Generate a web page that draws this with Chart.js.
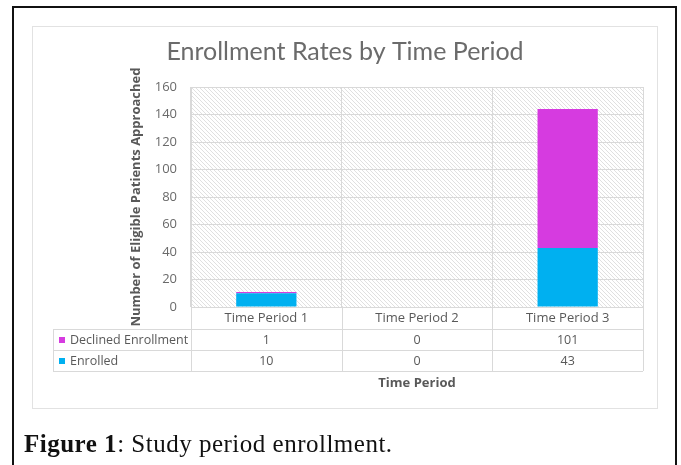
<!DOCTYPE html>
<html>
<head>
<meta charset="utf-8">
<title>Enrollment Rates by Time Period</title>
<script src="https://cdn.jsdelivr.net/npm/chart.js@4.4.1/dist/chart.umd.min.js"></script>
<style>
  html, body { margin: 0; padding: 0; background: #fff; }
  body { width: 681px; height: 465px; position: relative; overflow: hidden; }
  #frame { position: absolute; left: 12px; top: 6px; width: 661px; height: 480px; border: 2px solid #111; }
  #box { position: absolute; left: 32px; top: 26px; width: 624px; height: 381px; border: 1px solid #e2e2e2; }
  #chart { position: absolute; left: 0; top: 0; }
  #caption { position: absolute; left: 24px; top: 431px; font: 25px/25px 'Liberation Serif', serif; letter-spacing: 0.5px; color: #111; white-space: nowrap; }
</style>
</head>
<body>
<div id="frame"></div>
<div id="box"></div>
<canvas id="chart" width="681" height="465"></canvas>
<div id="caption"><b>Figure 1</b>: Study period enrollment.</div>
<script>
(function () {
	'use strict';

	// ─── Data ───
	var categories = ['Time Period 1', 'Time Period 2', 'Time Period 3'];
	var enrolled = [10, 0, 43];
	var declined = [1, 0, 101];
	var yMin = 0;
	var yMax = 160;
	var yStep = 20;

	var colors = {
		enrolled: '#00b0f0',
		declined: '#d63be0',
		grid: '#d9d9d9',
		text: '#6a6a6a',
		title: '#6b6b6b',
		label: '#595959'
	};

	// diagonal hatch used behind the plot area
	function makeHatch() {
		var c = document.createElement('canvas');
		c.width = 4;
		c.height = 4;
		var g = c.getContext('2d');
		g.fillStyle = '#ffffff';
		g.fillRect(0, 0, 4, 4);
		g.fillStyle = '#e0e0e0';
		for (var i = 0; i < 4; i++) g.fillRect(i, i, 1, 1);
		return g.createPattern(c, 'repeat');
	}

	var hatchBackground = {
		id: 'hatchBackground',
		beforeDraw: function (chart) {
			var a = chart.chartArea;
			var ctx = chart.ctx;
			ctx.save();
			ctx.fillStyle = makeHatch();
			ctx.fillRect(a.left, a.top, a.right - a.left, a.bottom - a.top);
			ctx.restore();
		}
	};

	// Excel-style data table under the x axis
	var dataTable = {
		id: 'dataTable',
		afterDraw: function (chart) {
			var ctx = chart.ctx;
			var a = chart.chartArea;
			var x = chart.scales.x;
			var rowH = 21;
			var headH = 22;
			var tableLeft = 53;
			var top = a.bottom + headH;
			var ds = chart.data.datasets.slice().reverse();
			var bottom = top + rowH * ds.length;
			var colW = (a.right - a.left) / categories.length;

			ctx.save();
			ctx.strokeStyle = colors.grid;
			ctx.lineWidth = 1;
			ctx.beginPath();
			for (var r = 0; r <= ds.length; r++) {
				var yy = Math.round(top + r * rowH) + 0.5;
				ctx.moveTo(tableLeft, yy);
				ctx.lineTo(a.right, yy);
			}
			ctx.moveTo(tableLeft + 0.5, top);
			ctx.lineTo(tableLeft + 0.5, bottom);
			for (var c = 0; c <= categories.length; c++) {
				var xx = Math.round(a.left + c * colW) + 0.5;
				ctx.moveTo(xx, a.bottom);
				ctx.lineTo(xx, bottom);
			}
			ctx.stroke();

			ctx.font = '12.5px "Open Sans", sans-serif';
			ctx.textBaseline = 'middle';
			ds.forEach(function (set, i) {
				var cy = top + i * rowH + rowH / 2 + 0.5;
				ctx.fillStyle = set.backgroundColor;
				ctx.fillRect(tableLeft + 6, Math.round(cy - 3), 6, 6);
				ctx.fillStyle = colors.label;
				ctx.textAlign = 'left';
				ctx.fillText(set.label, tableLeft + 17, cy);
				ctx.textAlign = 'center';
				set.data.forEach(function (v, j) {
					ctx.fillText(String(v), x.getPixelForValue(j), cy);
				});
			});
			ctx.restore();
		}
	};

	var ctx = document.getElementById('chart').getContext('2d');

	new Chart(ctx, {
		type: 'bar',
		data: {
			labels: categories,
			datasets: [{
				label: 'Enrolled',
				data: enrolled,
				backgroundColor: colors.enrolled,
				barPercentage: 0.4,
				categoryPercentage: 1
			}, {
				label: 'Declined Enrollment',
				data: declined,
				backgroundColor: colors.declined,
				barPercentage: 0.4,
				categoryPercentage: 1
			}]
		},
		options: {
			responsive: false,
			animation: false,
			layout: {
				padding: { top: 37, left: 47, right: 38, bottom: 74 }
			},
			plugins: {
				legend: { display: false },
				tooltip: { enabled: false },
				title: {
					display: true,
					text: 'Enrollment Rates by Time Period',
					color: colors.title,
					font: { family: 'Lato', size: 25, weight: 'normal' },
					padding: { top: 0, bottom: 20 }
				}
			},
			scales: {
				x: {
					stacked: true,
					afterFit: function (s) { s.height = 84; },
					grid: { color: colors.grid, drawTicks: false, offset: true },
					border: { color: colors.grid },
					ticks: {
						color: colors.label,
						padding: 3,
						font: { family: 'Open Sans', size: 13 }
					},
					title: {
						display: true,
						text: 'Time Period',
						color: colors.label,
						font: { family: 'Open Sans', size: 13, weight: 'bold' },
						padding: { top: 0, bottom: 0 }
					}
				},
				y: {
					stacked: true,
					min: yMin,
					max: yMax,
					afterFit: function (s) { s.width = 144; },
					grid: { color: colors.grid, drawTicks: false },
					border: { color: colors.grid },
					ticks: {
						stepSize: yStep,
						color: colors.text,
						padding: 14,
						font: { family: 'Open Sans', size: 13 }
					},
					title: {
						display: true,
						text: 'Number of Eligible Patients Approached',
						color: colors.label,
						font: { family: 'Open Sans', size: 13, weight: 'bold' },
						padding: { top: 81, bottom: 0 }
					}
				}
			}
		},
		plugins: [hatchBackground, dataTable]
	});
})();
</script>
</body>
</html>
